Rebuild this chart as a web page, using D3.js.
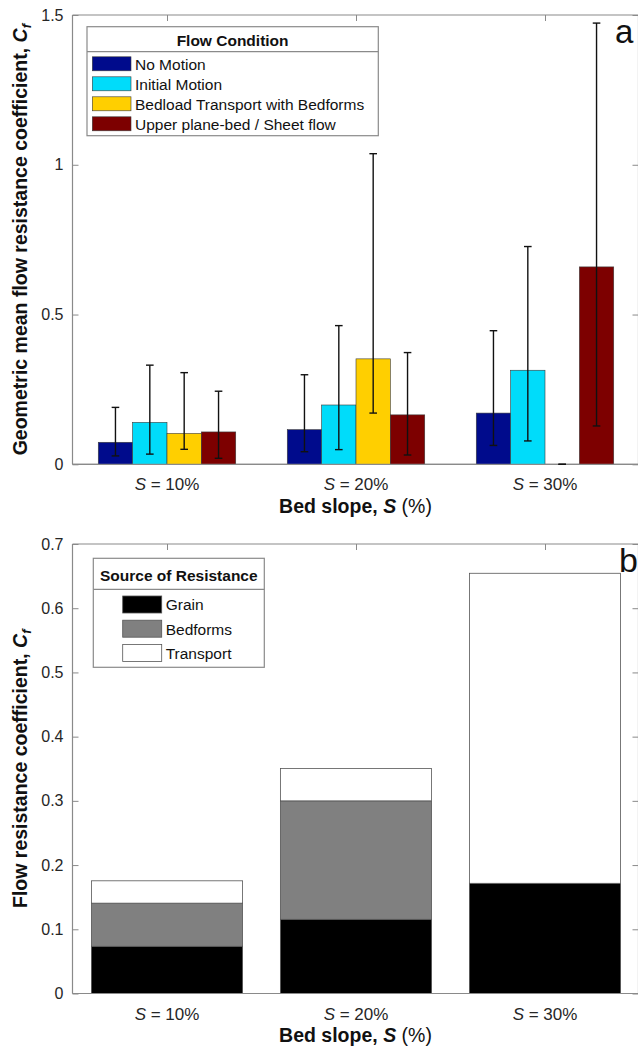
<!DOCTYPE html>
<html>
<head>
<meta charset="utf-8">
<script src="https://cdn.jsdelivr.net/npm/d3@7"></script>
<style>
  html, body { margin: 0; padding: 0; background: #fff; }
  svg { display: block; font-family: "Liberation Sans", Arial, Helvetica, sans-serif; }
</style>
</head>
<body>
<svg id="chart" width="638" height="1048"></svg>
<script>
// ---------- data ----------
const slopes = ["10%", "20%", "30%"];

// Panel a: geometric mean Cf by flow condition
const flowConditions = ["No Motion", "Initial Motion", "Bedload Transport with Bedforms", "Upper plane-bed / Sheet flow"];
const flowColors = ["#000b8c", "#00dcfa", "#ffcf00", "#7d0000"];
const noMotion        = [0.0735, 0.1156, 0.171];
const initialMotion   = [0.140, 0.198, 0.314];
const bedloadBedforms = [0.103, 0.352, 0];
const upperPlaneBed   = [0.108, 0.165, 0.659];
const noMotionLo        = [0.028, 0.042, 0.063];
const noMotionHi        = [0.190, 0.299, 0.446];
const initialMotionLo   = [0.034, 0.049, 0.078];
const initialMotionHi   = [0.331, 0.463, 0.727];
const bedloadBedformsLo = [0.050, 0.171, 0];
const bedloadBedformsHi = [0.306, 1.037, 0];
const upperPlaneBedLo   = [0.020, 0.031, 0.128];
const upperPlaneBedHi   = [0.244, 0.373, 1.473];
const ticksA = [0, 0.5, 1, 1.5];
const tickLabelsA = ["0", "0.5", "1", "1.5"];

// Panel b: source of resistance (stacked)
const sources = ["Grain", "Bedforms", "Transport"];
const sourceColors = ["#000000", "#808080", "#ffffff"];
const grain     = [0.0735, 0.1155, 0.1716];
const bedforms  = [0.0672, 0.1845, 0];
const transport = [0.0348, 0.0503, 0.4828];
const ticksB = [0, 0.1, 0.2, 0.3, 0.4, 0.5, 0.6, 0.7];
const tickLabelsB = ["0", "0.1", "0.2", "0.3", "0.4", "0.5", "0.6", "0.7"];

// ---------- layout ----------
const svg = d3.select("#chart");
const axisColor = "#8a8a8a";
const textColor = "#262626";
const left = 72.5, right = 638.5;
const xRange = [left, right + 1];

function seriesTable(vals, lo, hi) {
  return slopes.map((s, i) => ({ slope: s, v: vals[i], lo: lo[i], hi: hi[i] }));
}

function drawAxesFrame(g, y, ticks, labels, top, bottom, xBand) {
  g.append("line").attr("x1", left).attr("x2", left).attr("y1", top).attr("y2", bottom)
    .attr("stroke", axisColor).attr("stroke-width", 1.2);
  g.append("line").attr("x1", left).attr("x2", right).attr("y1", top).attr("y2", top)
    .attr("stroke", axisColor).attr("stroke-width", 1.2);
  g.append("line").attr("x1", right).attr("x2", right).attr("y1", top).attr("y2", bottom)
    .attr("stroke", axisColor).attr("stroke-width", 1.2);
  g.append("line").attr("x1", left).attr("x2", right).attr("y1", bottom).attr("y2", bottom)
    .attr("stroke", axisColor).attr("stroke-width", 1.2);

  const la = g.append("g").attr("transform", `translate(${left},0)`)
    .call(d3.axisLeft(y).tickValues(ticks).tickFormat((d, i) => labels[i]).tickSize(-6).tickPadding(9));
  la.select(".domain").remove();
  la.attr("font-size", null).attr("font-family", null);
  la.selectAll(".tick line").attr("stroke", axisColor);
  la.selectAll(".tick text").attr("fill", textColor).style("font-size", "16px")
    .style("font-family", "'Liberation Sans', Arial, sans-serif");

  const ra = g.append("g").attr("transform", `translate(${right},0)`)
    .call(d3.axisRight(y).tickValues(ticks).tickFormat("").tickSize(-6));
  ra.select(".domain").remove();
  ra.selectAll(".tick line").attr("stroke", axisColor);

  const centers = slopes.map(s => xBand(s) + xBand.bandwidth() / 2);
  const tx = d3.scaleLinear().domain([0, 1]).range([0, 1]);
  const ta = g.append("g").attr("transform", `translate(0,${top})`)
    .call(d3.axisTop(tx).tickValues(centers).tickFormat("").tickSize(-6));
  ta.select(".domain").remove();
  ta.selectAll(".tick line").attr("stroke", axisColor);
}

function drawXLabels(g, xBand, labelY, titleY) {
  slopes.forEach(s => {
    const t = g.append("text")
      .attr("x", xBand(s) + xBand.bandwidth() / 2).attr("y", labelY)
      .attr("text-anchor", "middle").style("font-size", "17px").attr("fill", textColor);
    t.append("tspan").attr("font-style", "italic").text("S");
    t.append("tspan").text(" = " + s);
  });
  const tt = g.append("text").attr("x", 355.5).attr("y", titleY)
    .attr("text-anchor", "middle").style("font-size", "19.5px").attr("fill", "#111");
  tt.append("tspan").attr("font-weight", "bold").text("Bed slope, ");
  tt.append("tspan").attr("font-weight", "bold").attr("font-style", "italic").text("S");
  tt.append("tspan").text(" (%)");
}

function drawYTitle(g, text, cx, cy) {
  const t = g.append("text").attr("transform", `translate(${cx},${cy}) rotate(-90)`)
    .attr("text-anchor", "middle").style("font-size", "19.5px").attr("font-weight", "bold").attr("fill", "#111");
  t.append("tspan").text(text);
  t.append("tspan").attr("font-style", "italic").text("C");
  t.append("tspan").attr("font-style", "italic").style("font-size", "13px").attr("dy", "0.35em").text("f");
}

// ================= Panel a =================
{
  const g = svg.append("g");
  const topA = 15, bottomA = 464.3;
  const y = d3.scaleLinear().domain([0, 1.5]).range([bottomA, topA]);
  const groupW = 4 / 5.5; // MATLAB grouped bar width
  const x0 = d3.scaleBand().domain(slopes).range(xRange)
    .paddingInner(1 - groupW).paddingOuter((1 - groupW) / 2);
  const x1 = d3.scaleBand().domain(flowConditions).range([0, x0.bandwidth()]).padding(0);

  drawAxesFrame(g, y, ticksA, tickLabelsA, topA, bottomA, x0);

  const series = [
    seriesTable(noMotion, noMotionLo, noMotionHi),
    seriesTable(initialMotion, initialMotionLo, initialMotionHi),
    seriesTable(bedloadBedforms, bedloadBedformsLo, bedloadBedformsHi),
    seriesTable(upperPlaneBed, upperPlaneBedLo, upperPlaneBedHi)
  ];

  series.forEach((rows, si) => {
    const name = flowConditions[si];
    g.append("g").selectAll("rect").data(rows.filter(r => r.v > 0)).join("rect")
      .attr("x", r => x0(r.slope) + x1(name))
      .attr("y", r => y(r.v))
      .attr("width", x1.bandwidth())
      .attr("height", r => y(0) - y(r.v))
      .attr("fill", flowColors[si])
      .attr("stroke", "#3a3a3a").attr("stroke-width", 0.6);
  });

  g.append("line").attr("x1", left).attr("x2", right).attr("y1", y(0)).attr("y2", y(0))
    .attr("stroke", axisColor).attr("stroke-width", 1.2);

  const cap = 3.8;
  series.forEach((rows, si) => {
    const name = flowConditions[si];
    const eg = g.append("g").attr("stroke", "#111").attr("stroke-width", 1.4);
    rows.forEach(r => {
      const cx = x0(r.slope) + x1(name) + x1.bandwidth() / 2;
      eg.append("line").attr("x1", cx).attr("x2", cx).attr("y1", y(r.lo)).attr("y2", y(r.hi));
      eg.append("line").attr("x1", cx - cap).attr("x2", cx + cap).attr("y1", y(r.lo)).attr("y2", y(r.lo));
      eg.append("line").attr("x1", cx - cap).attr("x2", cx + cap).attr("y1", y(r.hi)).attr("y2", y(r.hi));
    });
  });

  drawXLabels(g, x0, 490, 513);
  drawYTitle(g, "Geometric mean flow resistance coefficient, ", 26.5, (topA + bottomA) / 2);

  const lg = g.append("g");
  lg.append("rect").attr("x", 87).attr("y", 26.7).attr("width", 291.3).attr("height", 109)
    .attr("fill", "#fff").attr("stroke", axisColor).attr("stroke-width", 1.2);
  lg.append("line").attr("x1", 87).attr("x2", 378.3).attr("y1", 51.7).attr("y2", 51.7)
    .attr("stroke", axisColor).attr("stroke-width", 1.2);
  lg.append("text").attr("x", 232.6).attr("y", 45.5).attr("text-anchor", "middle")
    .style("font-size", "15.5px").attr("font-weight", "bold").attr("fill", "#111").text("Flow Condition");
  flowConditions.forEach((name, i) => {
    const cy = 63.8 + i * 20;
    lg.append("rect").attr("x", 92.3).attr("y", cy - 7).attr("width", 38.7).attr("height", 14)
      .attr("fill", flowColors[i]).attr("stroke", "#3a3a3a").attr("stroke-width", 0.6);
    lg.append("text").attr("x", 135).attr("y", cy + 5.8).style("font-size", "15.5px")
      .attr("fill", "#111").text(name);
  });

  g.append("text").attr("x", 615).attr("y", 42.5).style("font-size", "33px").attr("fill", "#111").text("a");
}

// ================= Panel b =================
{
  const g = svg.append("g");
  const topB = 544, bottomB = 993.5;
  const y = d3.scaleLinear().domain([0, 0.7]).range([bottomB, topB]);
  const x = d3.scaleBand().domain(slopes).range(xRange).paddingInner(0.2).paddingOuter(0.1);

  drawAxesFrame(g, y, ticksB, tickLabelsB, topB, bottomB, x);

  const table = slopes.map((s, i) => ({ slope: s, Grain: grain[i], Bedforms: bedforms[i], Transport: transport[i] }));
  const stacked = d3.stack().keys(sources)(table);

  stacked.forEach((layer, li) => {
    g.append("g").selectAll("rect").data(layer.filter(d => d[1] - d[0] > 0)).join("rect")
      .attr("x", d => x(d.data.slope))
      .attr("y", d => y(d[1]))
      .attr("width", x.bandwidth())
      .attr("height", d => y(d[0]) - y(d[1]))
      .attr("fill", sourceColors[li])
      .attr("stroke", "#555").attr("stroke-width", 0.8);
  });

  g.append("line").attr("x1", left).attr("x2", right).attr("y1", y(0)).attr("y2", y(0))
    .attr("stroke", axisColor).attr("stroke-width", 1.2);

  drawXLabels(g, x, 1020, 1042);
  drawYTitle(g, "Flow resistance coefficient, ", 26.5, (topB + bottomB) / 2);

  const lg = g.append("g");
  lg.append("rect").attr("x", 93.3).attr("y", 558.3).attr("width", 171).attr("height", 109)
    .attr("fill", "#fff").attr("stroke", axisColor).attr("stroke-width", 1.2);
  lg.append("line").attr("x1", 93.3).attr("x2", 264.3).attr("y1", 589.3).attr("y2", 589.3)
    .attr("stroke", axisColor).attr("stroke-width", 1.2);
  lg.append("text").attr("x", 178.8).attr("y", 581).attr("text-anchor", "middle")
    .style("font-size", "15.5px").attr("font-weight", "bold").attr("fill", "#111").text("Source of Resistance");
  sources.forEach((name, i) => {
    const cy = 604.5 + i * 24.2;
    lg.append("rect").attr("x", 122.7).attr("y", cy - 8.5).attr("width", 39).attr("height", 17)
      .attr("fill", sourceColors[i]).attr("stroke", "#555").attr("stroke-width", 0.8);
    lg.append("text").attr("x", 165.7).attr("y", cy + 5.8).style("font-size", "15.5px")
      .attr("fill", "#111").text(name);
  });

  g.append("text").attr("x", 619).attr("y", 572).style("font-size", "34px").attr("fill", "#111").text("b");
}
</script>
</body>
</html>
